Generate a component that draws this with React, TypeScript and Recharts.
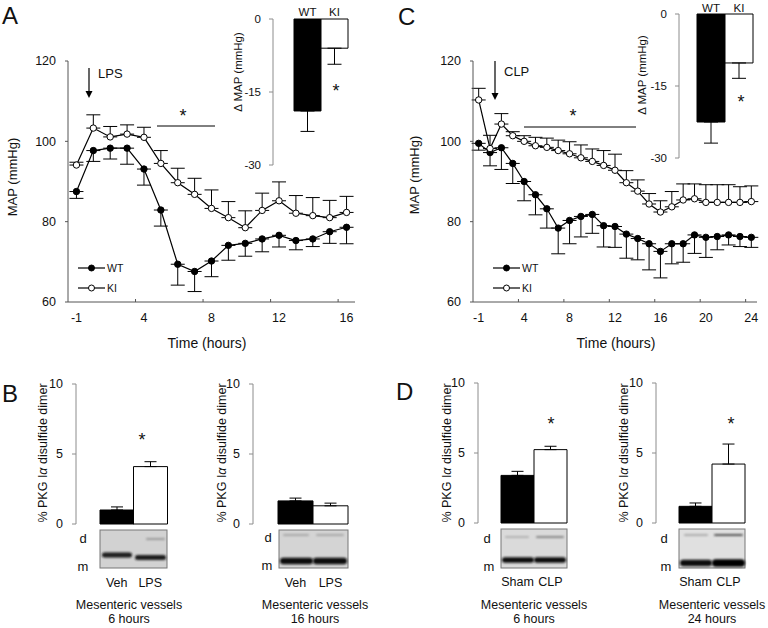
import React from 'react';
import {
  ComposedChart, Line, BarChart, Bar, Cell, XAxis, YAxis, ErrorBar, Legend,
} from 'recharts';

const FONT = '"Liberation Sans", Arial, Helvetica, sans-serif';
const INK = '#111';
const AXIS = '#555';
const SOFT_AXIS = '#8c8c8c';

// A: MAP after LPS (mmHg), mean +/- SEM
const lpsHours = [-1, 1, 2, 3, 4, 5, 6, 7, 8, 9, 10, 11, 12, 13, 14, 15, 16];
const lpsWt = [87.5, 97.7, 98.3, 98.3, 93.1, 82.9, 69.4, 67.6, 70.2, 74.1, 74.6, 75.7, 76.6, 75.3, 75.7, 77.5, 78.6];
const lpsWtErr = [1.7, 2.7, 2.7, 4.0, 4.0, 4.0, 5.2, 5.0, 3.9, 3.7, 3.2, 3.2, 2.9, 2.3, 1.9, 2.9, 4.1];
const lpsKi = [94.1, 103.3, 101.1, 101.8, 101.0, 94.5, 89.7, 86.8, 83.3, 81.0, 78.5, 82.8, 85.2, 82.1, 81.5, 81.0, 82.3];
const lpsKiErr = [0.7, 3.3, 2.6, 2.3, 2.5, 3.2, 3.6, 4.0, 4.6, 4.0, 4.2, 4.3, 4.7, 4.4, 4.5, 4.3, 4.0];
const lpsLabels = [-1, 4, 8, 12, 16];

// C: MAP after CLP
const clpHours = [-1, 1, 2, 3, 4, 5, 6, 7, 8, 9, 10, 11, 12, 13, 14, 15, 16, 17, 18, 19, 20, 21, 22, 23, 24];
const clpWt = [99.5, 97.2, 98.4, 94.5, 90.0, 86.7, 83.2, 78.4, 80.3, 81.3, 81.8, 79.0, 78.8, 76.9, 75.8, 74.5, 72.6, 74.5, 74.5, 76.7, 76.1, 76.3, 76.7, 76.3, 76.1];
const clpWtErr = [1.7, 3.3, 5.4, 5.0, 4.8, 5.0, 4.8, 6.4, 5.8, 5.1, 4.7, 5.3, 5.2, 6.0, 5.3, 6.5, 6.6, 5.0, 4.6, 4.6, 5.0, 3.3, 2.5, 2.5, 2.5];
const clpKi = [110.3, 98.2, 104.3, 101.4, 100.0, 98.9, 98.5, 97.7, 96.9, 95.9, 95.0, 94.0, 92.8, 89.7, 87.6, 84.4, 82.4, 83.7, 85.4, 85.7, 84.8, 84.8, 84.8, 84.8, 85.0];
const clpKiErr = [2.9, 3.3, 2.6, 1.0, 1.4, 2.1, 2.3, 2.6, 3.0, 3.2, 3.1, 3.7, 4.0, 3.0, 2.8, 2.6, 2.8, 3.8, 4.0, 3.7, 4.4, 4.4, 4.4, 3.9, 3.9];
const clpLabels = [-1, 4, 8, 12, 16, 20, 24];

// insets: change in MAP
const genotypes = ['WT', 'KI'];
const lpsDelta = [-18.9, -6.0];
const lpsDeltaErr = [4.2, 3.3];
const clpDelta = [-22.5, -10.2];
const clpDeltaErr = [4.4, 3.2];

// B, D: % PKG I alpha disulfide dimer
const lpsGroups = ['Veh', 'LPS'];
const clpGroups = ['Sham', 'CLP'];
const dimerLps6h = [1.0, 4.1];
const dimerLps6hErr = [0.22, 0.35];
const dimerLps16h = [1.65, 1.3];
const dimerLps16hErr = [0.2, 0.19];
const dimerClp6h = [3.4, 5.24];
const dimerClp6hErr = [0.29, 0.24];
const dimerClp24h = [1.19, 4.21];
const dimerClp24hErr = [0.24, 1.43];

const barFills = ['#000', '#fff'];
const keyFill: Record<string, string> = { WT: '#000', KI: '#fff' };

function TimeTick(props: any) {
  const { x, y, payload, band, hours } = props;
  const idx = payload.value;
  return (
    <g>
      {idx > 0 && <line x1={x - band / 2} x2={x - band / 2} y1={y} y2={y - 3} stroke={AXIS} />}
      <text x={x} y={y + 20} textAnchor="middle" fill={INK} fontSize={12.5}>{hours[idx]}</text>
    </g>
  );
}

function MapKey({ payload }: any) {
  const items = [...(payload || [])].sort(
    (a: any, b: any) => genotypes.indexOf(a.value) - genotypes.indexOf(b.value));
  return (
    <svg width={50} height={40}>
      {items.map((e: any, i: number) => {
        const y = 7 + i * 20;
        return (
          <g key={e.value}>
            <line x1={0} x2={27} y1={y} y2={y} stroke="#000" strokeWidth={1.2} />
            <circle cx={13.5} cy={y} r={3} fill={keyFill[e.value]} stroke="#000" />
            <text x={29} y={y + 3.6} fontSize={10.5} fill={INK}>{e.value}</text>
          </g>
        );
      })}
    </svg>
  );
}

function MapCourse({ left, width, marginLeft, marginRight, hours, wt, wtErr, ki, kiErr, labels, legendX }: any) {
  const data = hours.map((h: number, i: number) => ({
    idx: i, hour: h, wt: wt[i], wtErr: [wtErr[i], 0], ki: ki[i], kiErr: [0, kiErr[i]],
  }));
  const band = (width - marginLeft - 40 - marginRight) / hours.length;
  const tickIdx = labels.map((l: number) => hours.indexOf(l));
  return (
    <div style={{ position: 'absolute', left, top: 0 }}>
      <ComposedChart width={width} height={332} data={data}
        margin={{ top: 61, right: marginRight, bottom: 0, left: marginLeft }}>
        <XAxis dataKey="idx" type="number" domain={[-0.5, hours.length - 0.5]} ticks={tickIdx}
          interval={0} height={30} tickSize={0} tickMargin={0} stroke={AXIS}
          tick={<TimeTick band={band} hours={hours} />} />
        <YAxis domain={[60, 120]} ticks={[60, 80, 100, 120]} width={40} tickSize={3} tickMargin={9}
          stroke={AXIS} tick={{ fill: INK, fontSize: 12.5 }} />
        <Legend layout="vertical" align="center" verticalAlign="middle"
          wrapperStyle={{ left: legendX, top: 261, width: 50 }} content={MapKey} />
        <Line name="WT" dataKey="wt" type="linear" stroke="#000" strokeWidth={1.2}
          dot={{ r: 3.2, fill: '#000', stroke: '#000', strokeWidth: 1 }} activeDot={false} isAnimationActive={false}>
          <ErrorBar dataKey="wtErr" width={7} stroke="#000" strokeWidth={1} direction="y" />
        </Line>
        <Line name="KI" dataKey="ki" type="linear" stroke="#000" strokeWidth={1.2}
          dot={{ r: 3.2, fill: '#fff', stroke: '#000', strokeWidth: 1 }} activeDot={false} isAnimationActive={false}>
          <ErrorBar dataKey="kiErr" width={7} stroke="#000" strokeWidth={1} direction="y" />
        </Line>
      </ComposedChart>
    </div>
  );
}

function InsetTick(props: any) {
  const { x, y, payload, dy } = props;
  return <text x={x} y={y - dy} textAnchor="middle" fill={INK} fontSize={11.5}>{payload.value}</text>;
}

function DeltaInset({ left, width, height, margin, axisH, pad, values, errs, dy }: any) {
  const data = genotypes.map((g, i) => ({ g, v: values[i], e: [errs[i], 0] }));
  return (
    <div style={{ position: 'absolute', left, top: 0 }}>
      <BarChart width={width} height={height} data={data} margin={margin} barCategoryGap={0} barGap={0}>
        <XAxis dataKey="g" orientation="top" height={axisH} axisLine={false} tickLine={false} interval={0}
          tickSize={0} tickMargin={0} padding={{ left: pad, right: 0 }} tick={<InsetTick dy={dy} />} />
        <YAxis domain={[-30, 0]} ticks={[-30, -15, 0]} width={40} tickSize={4} tickMargin={8}
          stroke={SOFT_AXIS} tick={{ fill: INK, fontSize: 11.5 }} />
        <Bar dataKey="v" stroke="#000" strokeWidth={1} isAnimationActive={false}>
          {data.map((d, i) => <Cell key={d.g} fill={barFills[i]} />)}
          <ErrorBar dataKey="e" width={7} stroke="#000" strokeWidth={1} direction="y" />
        </Bar>
      </BarChart>
    </div>
  );
}

function LaneTick(props: any) {
  const { x, y, payload } = props;
  return <text x={x} y={y + 63} textAnchor="middle" fill={INK} fontSize={12.5}>{payload.value}</text>;
}

function DimerBars({ left, top, marginTop, marginLeft, marginRight, pad, groups, values, errs }: any) {
  const data = groups.map((g: string, i: number) => ({ g, v: values[i], e: [0, errs[i]] }));
  const height = 225;
  return (
    <div style={{ position: 'absolute', left, top }}>
      <BarChart width={180} height={height} data={data} barCategoryGap={0} barGap={0}
        margin={{ top: marginTop, right: marginRight, bottom: 0, left: marginLeft }}>
        <XAxis dataKey="g" height={height - marginTop - 140} axisLine={false} tickLine={false} interval={0}
          tickSize={0} tickMargin={0} padding={{ left: pad, right: 0 }} tick={<LaneTick />} />
        <YAxis domain={[0, 10]} ticks={[0, 5, 10]} width={40} tickSize={4} tickMargin={9}
          stroke={SOFT_AXIS} tick={{ fill: INK, fontSize: 12.5 }} />
        <Bar dataKey="v" stroke="#000" strokeWidth={1} isAnimationActive={false}>
          {data.map((d: any, i: number) => <Cell key={d.g} fill={barFills[i]} />)}
          <ErrorBar dataKey="e" width={6} stroke="#000" strokeWidth={1} direction="y" />
        </Bar>
      </BarChart>
    </div>
  );
}

function Blot({ x, y, w, h, bg, bands }: any) {
  return (
    <g>
      <rect x={x} y={y} width={w} height={h} fill={bg} stroke="#777" strokeWidth={1} />
      {bands.map((b: any, i: number) => (
        <rect key={i} x={b[0]} y={b[1] - b[3] / 2} width={b[2]} height={b[3]} rx={b[3] / 2}
          fill={b[4]} filter="url(#soft)" />
      ))}
    </g>
  );
}

function Rotated({ x, y, size, children }: any) {
  return (
    <text transform={`translate(${x},${y}) rotate(-90)`} textAnchor="middle" fontSize={size} fill={INK}>
      {children}
    </text>
  );
}

function Star({ x, y }: any) {
  return <text x={x} y={y + 10} textAnchor="middle" fontSize={18} fill={INK}>*</text>;
}

function DimerLabel({ x }: any) {
  return (
    <Rotated x={x} y={453} size={12.5}>
      % PKG I<tspan fontStyle="italic">α</tspan> disulfide dimer
    </Rotated>
  );
}

function Caption({ x, lines }: any) {
  return (
    <g>
      <text x={x} y={609} textAnchor="middle" fontSize={12.5} fill={INK}>{lines[0]}</text>
      <text x={x} y={623} textAnchor="middle" fontSize={12.5} fill={INK}>{lines[1]}</text>
    </g>
  );
}

function Overlay() {
  return (
    <svg width={768} height={628} style={{ position: 'absolute', left: 0, top: 0, pointerEvents: 'none' }}>
      <defs>
        <filter id="soft" x="-20%" y="-150%" width="140%" height="400%">
          <feGaussianBlur stdDeviation="1" />
        </filter>
      </defs>
      <g fontSize={24} fill={INK}>
        <text x={2} y={24}>A</text>
        <text x={398} y={25}>C</text>
        <text x={2} y={402}>B</text>
        <text x={396} y={400}>D</text>
      </g>

      <Rotated x={17} y={177} size={13}>MAP (mmHg)</Rotated>
      <Rotated x={419} y={175} size={13}>MAP (mmHg)</Rotated>
      <text x={207} y={348} textAnchor="middle" fontSize={14} fill={INK}>Time (hours)</text>
      <text x={616} y={348} textAnchor="middle" fontSize={14} fill={INK}>Time (hours)</text>
      <Rotated x={242} y={72} size={11.5}>Δ MAP (mmHg)</Rotated>
      <Rotated x={646} y={75} size={11.5}>Δ MAP (mmHg)</Rotated>

      <line x1={89} x2={89} y1={68} y2={92} stroke="#000" strokeWidth={1.2} />
      <polygon points="85.5,91 92.5,91 89,98" fill="#000" />
      <text x={98} y={78} fontSize={13} fill={INK}>LPS</text>
      <line x1={495} x2={495} y1={61} y2={94} stroke="#000" strokeWidth={1.2} />
      <polygon points="491.5,93 498.5,93 495,100" fill="#000" />
      <text x={504} y={76} fontSize={13} fill={INK}>CLP</text>

      <line x1={157} x2={215} y1={126} y2={126} stroke="#000" strokeWidth={1} />
      <Star x={183} y={112} />
      <line x1={524} x2={636} y1={127} y2={127} stroke="#000" strokeWidth={1} />
      <Star x={573} y={112} />
      <Star x={336} y={87} />
      <Star x={741} y={98} />
      <Star x={142} y={436} />
      <Star x={551} y={420} />
      <Star x={731} y={420} />

      <DimerLabel x={47} />
      <DimerLabel x={226} />
      <DimerLabel x={451} />
      <DimerLabel x={628} />

      <Blot x={100} y={530} w={67} h={38} bg="#d2d2d2"
        bands={[[102, 555, 30, 5, '#1a1a1a'], [135, 557.5, 31, 5, '#1a1a1a'], [146, 539, 19, 1.6, '#888']]} />
      <Blot x={279} y={530} w={69} h={38} bg="#d4d4d4"
        bands={[[280, 561, 33, 6.5, '#0a0a0a'], [313, 561, 34, 6.5, '#0a0a0a'],
          [283, 535, 26, 1.5, '#999'], [316, 535, 28, 1.5, '#999']]} />
      <Blot x={501} y={529} w={66} h={39} bg="#dadada"
        bands={[[502, 560, 32, 5.5, '#111'], [534, 560, 32, 5.5, '#111'],
          [505, 537, 24, 1.5, '#a5a5a5'], [536, 537, 28, 1.8, '#888']]} />
      <Blot x={679} y={529} w={66} h={39} bg="#e0e0e0"
        bands={[[680, 563, 32, 6.5, '#0a0a0a'], [712, 563, 33, 7.5, '#050505'],
          [684, 535, 24, 1.5, '#9c9c9c'], [714, 535, 29, 2.2, '#555']]} />

      <g fontSize={13} fill={INK}>
        <text x={83} y={543} textAnchor="middle">d</text>
        <text x={83} y={571} textAnchor="middle">m</text>
        <text x={268} y={542} textAnchor="middle">d</text>
        <text x={267} y={570} textAnchor="middle">m</text>
        <text x={487} y={543} textAnchor="middle">d</text>
        <text x={489} y={571} textAnchor="middle">m</text>
        <text x={664} y={543} textAnchor="middle">d</text>
        <text x={666} y={571} textAnchor="middle">m</text>
      </g>

      <Caption x={129} lines={['Mesenteric vessels', '6 hours']} />
      <Caption x={315} lines={['Mesenteric vessels', '16 hours']} />
      <Caption x={534} lines={['Mesenteric vessels', '6 hours']} />
      <Caption x={712} lines={['Mesenteric vessels', '24 hours']} />
    </svg>
  );
}

export default function App() {
  return (
    <div style={{ position: 'absolute', left: 0, top: 0, width: 768, height: 628, background: '#fff', fontFamily: FONT, overflow: 'hidden' }}>
      <MapCourse left={0} width={370} marginLeft={28} marginRight={15} hours={lpsHours}
        wt={lpsWt} wtErr={lpsWtErr} ki={lpsKi} kiErr={lpsKiErr} labels={lpsLabels} legendX={78} />
      <MapCourse left={384} width={380} marginLeft={49} marginRight={7} hours={clpHours}
        wt={clpWt} wtErr={clpWtErr} ki={clpKi} kiErr={clpKiErr} labels={clpLabels} legendX={109} />

      <DeltaInset left={220} width={140} height={175} axisH={19} pad={21} dy={3}
        margin={{ top: 0, right: 12, bottom: 10, left: 13 }} values={lpsDelta} errs={lpsDeltaErr} />
      <DeltaInset left={620} width={140} height={165} axisH={14} pad={18} dy={2}
        margin={{ top: 0, right: 7, bottom: 7, left: 19 }} values={clpDelta} errs={clpDeltaErr} />

      <DimerBars left={0} top={370} marginTop={14} marginLeft={36} marginRight={13} pad={24}
        groups={lpsGroups} values={dimerLps6h} errs={dimerLps6hErr} />
      <DimerBars left={180} top={370} marginTop={14} marginLeft={33} marginRight={12} pad={25}
        groups={lpsGroups} values={dimerLps16h} errs={dimerLps16hErr} />
      <DimerBars left={400} top={370} marginTop={13} marginLeft={38} marginRight={13} pad={23}
        groups={clpGroups} values={dimerClp6h} errs={dimerClp6hErr} />
      <DimerBars left={580} top={370} marginTop={13} marginLeft={36} marginRight={15} pad={23}
        groups={clpGroups} values={dimerClp24h} errs={dimerClp24hErr} />

      <Overlay />
    </div>
  );
}
